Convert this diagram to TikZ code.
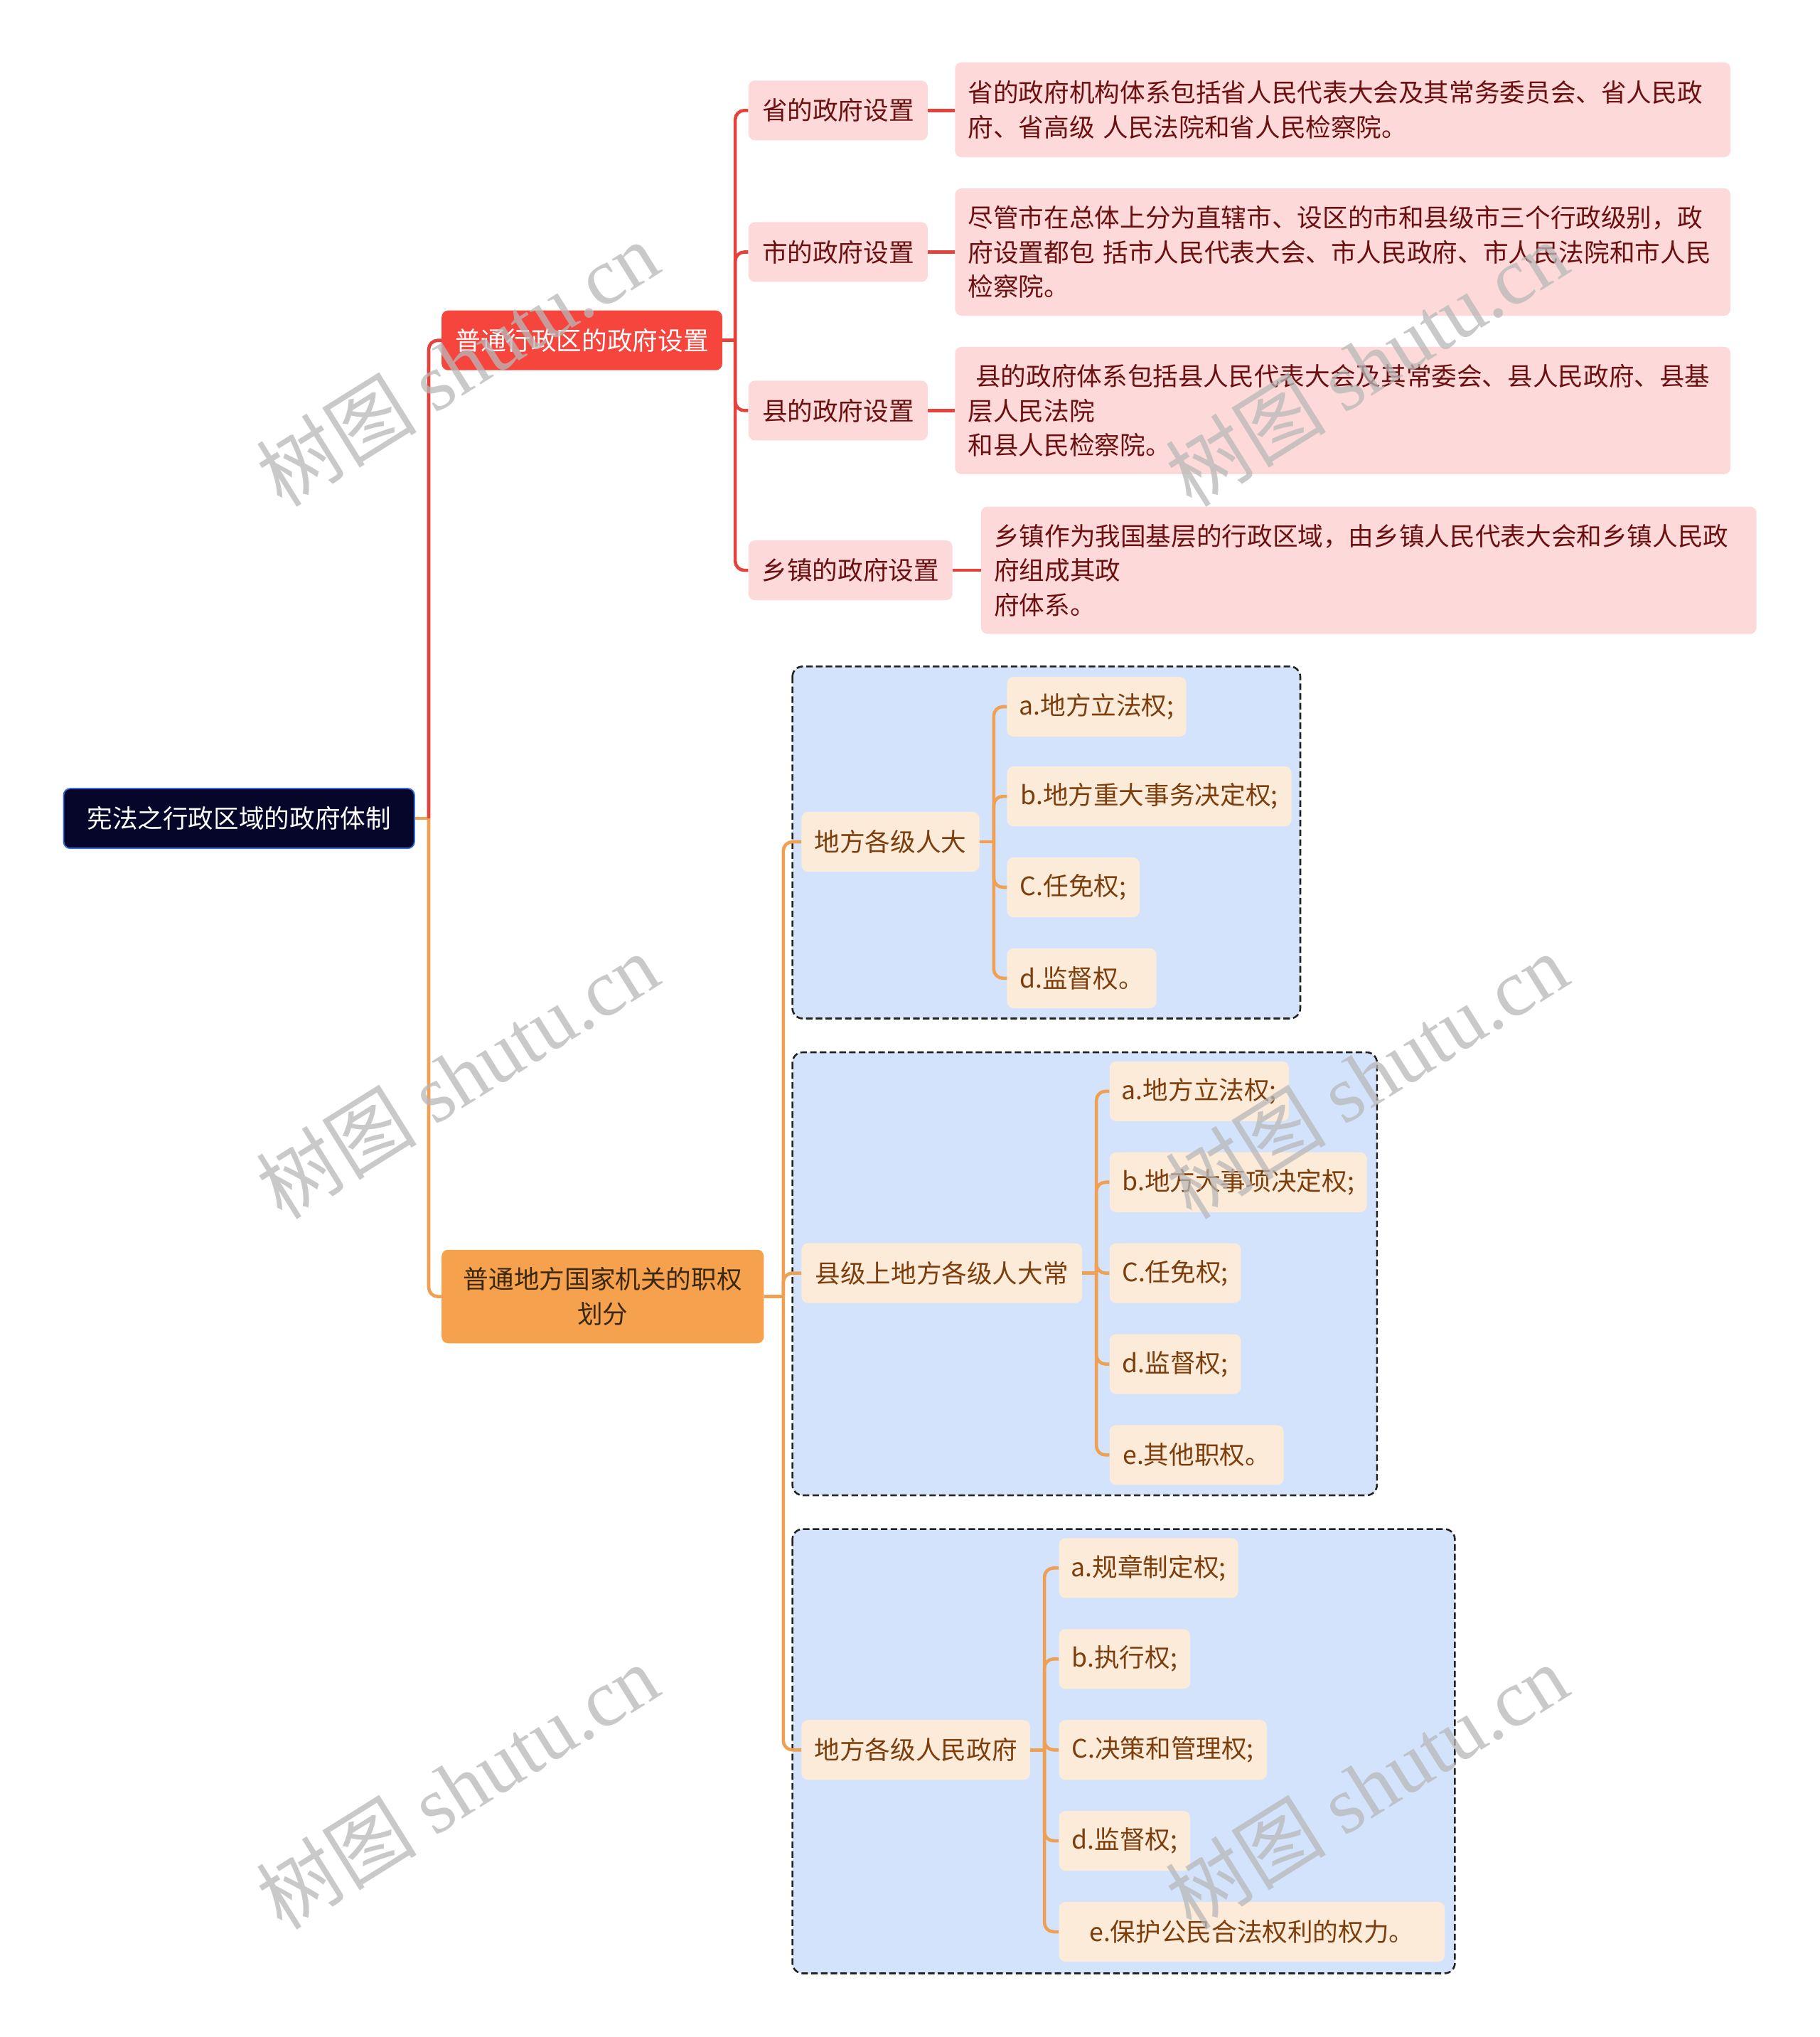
\documentclass[tikz,border=0pt]{standalone}
\usepackage{fontspec}
\setmainfont{Noto Sans CJK SC}
\newfontfamily\wmlatin{Liberation Serif}
\newfontfamily\wmcjk{Noto Sans CJK SC}
\definecolor{rootfill}{HTML}{06062A}
\definecolor{rootborder}{HTML}{3A6AD0}
\definecolor{redfill}{HTML}{F6453D}
\definecolor{redline}{HTML}{E5423C}
\definecolor{orangefill}{HTML}{F5A14E}
\definecolor{orangeline}{HTML}{F0A053}
\definecolor{orangetext}{HTML}{3A2810}
\definecolor{pinkfill}{HTML}{FDD9D9}
\definecolor{pinktext}{HTML}{6B1010}
\definecolor{peachfill}{HTML}{FDEBDA}
\definecolor{peachtext}{HTML}{7B3E0C}
\definecolor{groupfill}{HTML}{D3E3FC}
\definecolor{groupborder}{HTML}{222222}
\definecolor{wmgray}{HTML}{B8B8B8}
\begin{document}
\begin{tikzpicture}[x=1pt,y=-1pt,
  every node/.style={font=\fontsize{19.5}{26.5}\selectfont, inner sep=0pt},
  box/.style={rounded corners=5pt, minimum height=46pt, align=center},
  rootbox/.style={box, fill=rootfill, draw=rootborder, line width=1pt, text=white},
  redbox/.style={box, fill=redfill, text=white},
  orangebox/.style={box, fill=orangefill, text=orangetext},
  pinkbox/.style={box, fill=pinkfill, text=pinktext},
  peachbox/.style={box, fill=peachfill, text=peachtext},
  descbox/.style={rounded corners=5pt, fill=pinkfill, text=pinktext, align=left,
    anchor=west, inner xsep=10pt, text width=577pt},
  groupbox/.style={rounded corners=8pt, fill=groupfill, draw=groupborder,
    line width=1.4pt, dash pattern=on 5pt off 2.5pt},
  redcon/.style={draw=redline, line width=2.5pt, rounded corners=7pt},
  orangecon/.style={draw=orangeline, line width=2.5pt, rounded corners=7pt},
  wm/.style={font=\fontsize{62}{62}\selectfont, text=wmgray, opacity=0.75, rotate=32}
]
\fill[white] (0,0) rectangle (1401,1568);
\useasboundingbox (0,0) rectangle (1401,1568);

% group frames
\draw[groupbox] (610,513) rectangle (1001,784);
\draw[groupbox] (610,810) rectangle (1060,1151);
\draw[groupbox] (610,1177) rectangle (1120,1519);

% nodes
\node[rootbox, minimum width=270pt] (root) at (184,630) {宪法之行政区域的政府体制};
\node[redbox, minimum width=216pt] (b1) at (448,262) {普通行政区的政府设置};
\node[orangebox, minimum width=248pt, minimum height=72pt] (b2) at (464,998) {普通地方国家机关的职权\\划分};

\node[pinkbox, minimum width=138pt, anchor=west] (p1) at (576,85) {省的政府设置};
\node[pinkbox, minimum width=138pt, anchor=west] (p2) at (576,194) {市的政府设置};
\node[pinkbox, minimum width=138pt, anchor=west] (p3) at (576,316) {县的政府设置};
\node[pinkbox, minimum width=157pt, anchor=west] (p4) at (576,439) {乡镇的政府设置};

\node[descbox, minimum height=73pt] (d1) at (735,84.5) {省的政府机构体系包括省人民代表大会及其常务委员会、省人民政\\府、省高级 人民法院和省人民检察院。};
\node[descbox, minimum height=98pt] (d2) at (735,194) {尽管市在总体上分为直辖市、设区的市和县级市三个行政级别，政\\府设置都包 括市人民代表大会、市人民政府、市人民法院和市人民\\检察院。};
\node[descbox, minimum height=98pt] (d3) at (735,316) {\hspace*{0.3em}县的政府体系包括县人民代表大会及其常委会、县人民政府、县基\\层人民法院\\和县人民检察院。};
\node[descbox, minimum height=98pt] (d4) at (755,439) {乡镇作为我国基层的行政区域，由乡镇人民代表大会和乡镇人民政\\府组成其政\\府体系。};

\node[peachbox, minimum width=137pt] (g1) at (685.5,648) {地方各级人大};
\node[peachbox, minimum width=216pt] (g2) at (725,980) {县级上地方各级人大常};
\node[peachbox, minimum width=176pt] (g3) at (705,1347) {地方各级人民政府};

\node[peachbox, minimum width=138pt, anchor=west] (g1a) at (775,544) {a.地方立法权;};
\node[peachbox, minimum width=219pt, anchor=west] (g1b) at (775,613) {b.地方重大事务决定权;};
\node[peachbox, minimum width=102pt, anchor=west] (g1c) at (775,683) {C.任免权;};
\node[peachbox, minimum width=115pt, anchor=west] (g1d) at (775,753) {d.监督权。};

\node[peachbox, minimum width=138pt, anchor=west] (g2a) at (854,840) {a.地方立法权;};
\node[peachbox, minimum width=198pt, anchor=west] (g2b) at (854,910) {b.地方大事项决定权;};
\node[peachbox, minimum width=101pt, anchor=west] (g2c) at (854,980) {C.任免权;};
\node[peachbox, minimum width=101pt, anchor=west] (g2d) at (854,1050) {d.监督权;};
\node[peachbox, minimum width=134pt, anchor=west] (g2e) at (854,1120) {e.其他职权。};

\node[peachbox, minimum width=138pt, anchor=west] (g3a) at (815,1207) {a.规章制定权;};
\node[peachbox, minimum width=101pt, anchor=west] (g3b) at (815,1277) {b.执行权;};
\node[peachbox, minimum width=160pt, anchor=west] (g3c) at (815,1347) {C.决策和管理权;};
\node[peachbox, minimum width=101pt, anchor=west] (g3d) at (815,1417) {d.监督权;};
\node[peachbox, minimum width=297pt, anchor=west] (g3e) at (815,1487) {e.保护公民合法权利的权力。};

% junction coordinates
\coordinate (j0) at (330,630);
\coordinate (j1) at (566,262);
\coordinate (j2) at (603,998);
\coordinate (k1) at (765,648);
\coordinate (k2) at (844,980);
\coordinate (k3) at (804,1347);

% connectors: root
\draw[orangecon] (root.east) -- (j0);
\draw[redcon] (j0) |- (b1.west);
\draw[orangecon] (j0) |- (b2.west);

% connectors: branch 1
\draw[redcon] (b1.east) -- (j1);
\foreach \n in {p1,p2,p3,p4} \draw[redcon] (j1) |- (\n.west);
\foreach \n/\m in {p1/d1,p2/d2,p3/d3,p4/d4} \draw[redcon] (\n.east) -- (\n.east -| \m.west);

% connectors: branch 2
\draw[orangecon] (b2.east) -- (j2);
\foreach \n in {g1,g2,g3} \draw[orangecon] (j2) |- (\n.west);
\draw[orangecon] (g1.east) -- (k1);
\foreach \n in {g1a,g1b,g1c,g1d} \draw[orangecon] (k1) |- (\n.west);
\draw[orangecon] (g2.east) -- (k2);
\foreach \n in {g2a,g2b,g2c,g2d,g2e} \draw[orangecon] (k2) |- (\n.west);
\draw[orangecon] (g3.east) -- (k3);
\foreach \n in {g3a,g3b,g3c,g3d,g3e} \draw[orangecon] (k3) |- (\n.west);

% watermarks
\node[wm] (w1) at (352,280) {{\wmcjk 树图} {\wmlatin shutu.cn}};
\node[wm] (w2) at (352,828) {{\wmcjk 树图} {\wmlatin shutu.cn}};
\node[wm] (w3) at (352,1375) {{\wmcjk 树图} {\wmlatin shutu.cn}};
\node[wm] (w4) at (1052,280) {{\wmcjk 树图} {\wmlatin shutu.cn}};
\node[wm] (w5) at (1052,828) {{\wmcjk 树图} {\wmlatin shutu.cn}};
\node[wm] (w6) at (1052,1375) {{\wmcjk 树图} {\wmlatin shutu.cn}};
\end{tikzpicture}
\end{document}
